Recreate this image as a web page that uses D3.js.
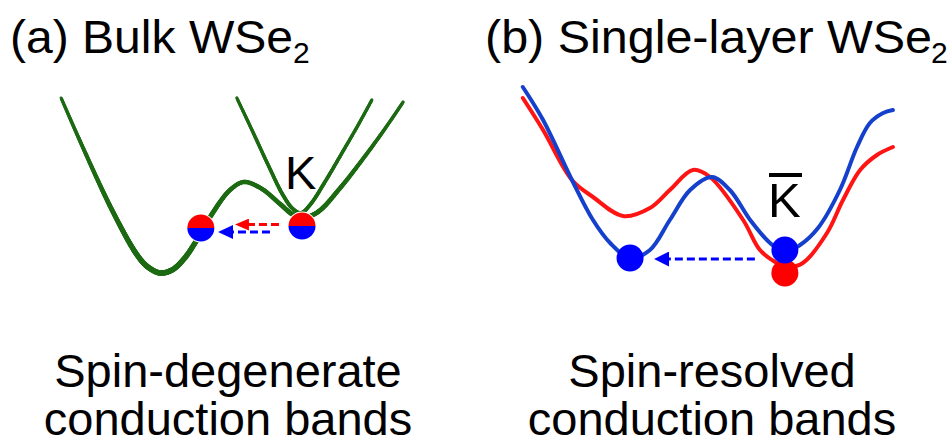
<!DOCTYPE html>
<html>
<head>
<meta charset="utf-8">
<script src="https://cdn.jsdelivr.net/npm/d3@7"></script>
<style>
  html, body { margin: 0; padding: 0; background: #ffffff; }
  svg { display: block; font-family: "Liberation Sans", Arial, Helvetica, sans-serif; }
</style>
</head>
<body>
<svg id="fig" width="951" height="445"></svg>
<script>
// ---- Band structure data (crystal momentum k, energy E, arbitrary units) ----

// (a) Bulk WSe2: spin-degenerate conduction bands
const bulkLowerBand = [
  [0.31, 9.6], [0.92, 7.1], [1.75, 3.9], [2.42, 1.75], [2.72, 1.15],
  [3.06, 0.85], [3.39, 1.0], [3.72, 1.55], [4.08, 2.5], [4.5, 3.8],
  [5.0, 5.0], [5.39, 5.4], [5.89, 5.05], [6.39, 4.3], [6.72, 3.8],
  [7.0, 3.6], [7.44, 3.9], [8.06, 5.1], [8.67, 6.5], [9.28, 8.0],
  [9.81, 9.4]
];
const bulkUpperBand = [
  [5.19, 9.6], [5.61, 8.0], [6.06, 6.25], [6.47, 4.75], [6.75, 4.05],
  [6.97, 3.85], [7.22, 4.25], [7.67, 5.5], [8.11, 6.85], [8.56, 8.25],
  [8.94, 9.5]
];

// (b) Single-layer WSe2: spin-resolved conduction bands
const spinDownBand = [ // blue
  [0.2, 10.15], [0.72, 8.5], [1.46, 5.5], [2.0, 3.5], [2.44, 2.35],
  [2.95, 1.6], [3.46, 2.0], [3.97, 3.5], [4.49, 5.0], [5.05, 5.65],
  [5.51, 5.0], [6.03, 3.5], [6.54, 2.35], [6.92, 1.9], [7.31, 2.25],
  [7.77, 3.1], [8.33, 5.0], [8.77, 7.15], [9.1, 8.35], [9.44, 8.85],
  [9.69, 9.0]
];
const spinUpBand = [ // red
  [0.2, 9.6], [0.72, 8.0], [1.46, 5.5], [2.0, 4.65], [2.77, 3.7],
  [3.46, 4.1], [3.97, 5.0], [4.56, 6.0], [5.0, 5.65], [5.85, 3.5],
  [6.28, 2.0], [6.67, 1.4], [6.97, 1.15], [7.38, 1.35], [8.0, 2.85],
  [8.41, 4.5], [8.85, 6.0], [9.28, 6.75], [9.69, 7.15]
];

// Electrons sitting in the valleys
const bulkElectrons = [[4.19, 3.1], [7.0, 3.2]];            // spin-degenerate (red over blue)
const slElectronsUp = [[6.92, 0.85]];                        // red
const slElectronsDown = [[2.95, 1.6], [6.92, 2.0]];          // blue

// Intervalley scattering: [from k, to k, E]
const bulkScatterUp = [[6.36, 5.11, 3.27]];
const bulkScatterDown = [[6.11, 4.64, 2.9]];
const slScatterDown = [[6.15, 3.54, 1.55]];

// Texts
const panelTitles = ["(a) Bulk WSe", "(b) Single-layer WSe"];
const valleyLabel = "K";
const captionA = ["Spin-degenerate", "conduction bands"];
const captionB = ["Spin-resolved", "conduction bands"];

// ---- Drawing ----
const svg = d3.select("#fig");
const GREEN = "#1c6a12", RED = "#ff0000", BLUE = "#0000ff";
const LINE_BLUE = "#1440cc", LINE_RED = "#ff1414";

const xA = d3.scaleLinear().domain([0, 10]).range([50, 410]);
const yA = d3.scaleLinear().domain([0, 10]).range([290, 90]);
const xB = d3.scaleLinear().domain([0, 10]).range([515, 905]);
const yB = d3.scaleLinear().domain([0, 10]).range([290, 90]);

const lineA = d3.line().x(d => xA(d[0])).y(d => yA(d[1])).curve(d3.curveCatmullRom.alpha(0.5));
const lineB = d3.line().x(d => xB(d[0])).y(d => yB(d[1])).curve(d3.curveCatmullRom.alpha(0.5));

// arrowhead markers
const defs = svg.append("defs");
function marker(id, color, w, h) {
  defs.append("marker")
    .attr("id", id)
    .attr("viewBox", `0 0 ${w} ${h}`)
    .attr("refX", 1).attr("refY", h / 2)
    .attr("markerUnits", "userSpaceOnUse")
    .attr("markerWidth", w).attr("markerHeight", h)
    .attr("orient", "auto")
    .append("path")
    .attr("d", `M0,0 L${w},${h / 2} L0,${h} Z`)
    .attr("fill", color);
}
marker("headRedA", RED, 14, 12);
marker("headBlueA", BLUE, 15, 14);
marker("headBlueB", BLUE, 15, 15);

// Panel (a) bands: stroke thickens towards the band bottoms
const gA = svg.append("g");
function taperedBand(g, data, widthAt) {
  const guide = g.append("path").datum(data).attr("d", lineA)
    .attr("fill", "none").attr("stroke", "none");
  const node = guide.node();
  const total = node.getTotalLength();
  const step = 1.5;
  const pts = d3.range(0, total + step, step).map(s => node.getPointAtLength(Math.min(s, total)));
  const segs = d3.pairs(pts);
  g.append("g").selectAll("line").data(segs).enter().append("line")
    .attr("x1", d => d[0].x).attr("y1", d => d[0].y)
    .attr("x2", d => d[1].x).attr("y2", d => d[1].y)
    .attr("stroke", GREEN).attr("stroke-linecap", "round")
    .attr("stroke-width", d => widthAt(yA.invert((d[0].y + d[1].y) / 2)));
  guide.remove();
}
taperedBand(gA, bulkUpperBand, E => 3.1 + 1.2 * (1 - E / 10));
taperedBand(gA, bulkLowerBand, E => 3.0 + 2.8 * (1 - E / 10));

function scatterArrows(g, data, xs, ys, color, head, headLen) {
  g.selectAll(null).data(data).enter().append("line")
    .attr("x1", d => xs(d[0])).attr("y1", d => ys(d[2]))
    .attr("x2", d => xs(d[1]) + headLen).attr("y2", d => ys(d[2]))
    .attr("stroke", color).attr("stroke-width", 3)
    .attr("stroke-dasharray", "8,4")
    .attr("marker-end", `url(#${head})`);
}
scatterArrows(gA, bulkScatterUp, xA, yA, RED, "headRedA", 14);
scatterArrows(gA, bulkScatterDown, xA, yA, BLUE, "headBlueA", 15);

// spin-degenerate electrons: upper half red, lower half blue
const R = 13.5;
const halfTop = `M${-R},0 A${R},${R} 0 0 1 ${R},0 Z`;
const halfBot = `M${-R},0 A${R},${R} 0 0 0 ${R},0 Z`;
const ballsA = gA.selectAll(null).data(bulkElectrons).enter().append("g")
  .attr("transform", d => `translate(${xA(d[0])},${yA(d[1])})`);
ballsA.append("circle").attr("r", R + 1).attr("fill", "#ffffff");
ballsA.append("path").attr("d", halfTop).attr("fill", RED);
ballsA.append("path").attr("d", halfBot).attr("fill", BLUE);

gA.append("text").text(valleyLabel)
  .attr("x", 285).attr("y", 189)
  .attr("font-size", 47).attr("fill", "#000");

// Panel (b) bands
const gB = svg.append("g");
gB.append("path").datum(spinUpBand)
  .attr("d", lineB).attr("fill", "none").attr("stroke", LINE_RED)
  .attr("stroke-width", 4).attr("stroke-linecap", "round");
gB.append("path").datum(spinDownBand)
  .attr("d", lineB).attr("fill", "none").attr("stroke", LINE_BLUE)
  .attr("stroke-width", 4).attr("stroke-linecap", "round");

scatterArrows(gB, slScatterDown, xB, yB, BLUE, "headBlueB", 15);

gB.selectAll(null).data(slElectronsUp).enter().append("circle")
  .attr("cx", d => xB(d[0])).attr("cy", d => yB(d[1])).attr("r", R).attr("fill", RED);
gB.selectAll(null).data(slElectronsDown).enter().append("circle")
  .attr("cx", d => xB(d[0])).attr("cy", d => yB(d[1])).attr("r", R).attr("fill", BLUE);

// K-bar label
gB.append("text").text(valleyLabel)
  .attr("x", 768).attr("y", 217)
  .attr("font-size", 49).attr("fill", "#000");
gB.append("rect").attr("x", 769).attr("y", 173).attr("width", 33).attr("height", 4).attr("fill", "#000");

// Titles with subscript 2
function title(x, y, str, len, subX) {
  svg.append("text").attr("x", x).attr("y", y)
    .attr("font-size", 46).attr("textLength", len).attr("lengthAdjust", "spacingAndGlyphs")
    .text(str);
  svg.append("text").attr("x", subX).attr("y", y + 10)
    .attr("font-size", 30).text("2");
}
title(10, 53, panelTitles[0], 283, 293);
title(485, 53, panelTitles[1], 447, 931);

// Captions
function caption(cx, lines) {
  svg.selectAll(null).data(lines).enter().append("text")
    .attr("x", cx).attr("y", (d, i) => 387 + i * 48)
    .attr("text-anchor", "middle").attr("font-size", 47)
    .text(d => d);
}
caption(228, captionA);
caption(712, captionB);
</script>
</body>
</html>
